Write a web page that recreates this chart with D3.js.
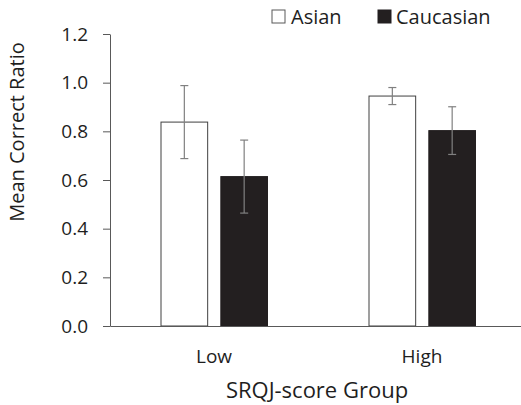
<script src="https://d3js.org/d3.v7.min.js"></script>

<style>
  body { margin: 0; background: #fff; }
  text { font-family: "Open Sans", sans-serif; fill: #1e1e1e; }
</style>

<body>
  <div id="chart"></div>
</body>

<script>
// data
var groups = ["Low", "High"]
var series = ["Asian", "Caucasian"]
var means = [[0.838, 0.614], [0.945, 0.803]]   // [group][series]
var errs  = [[0.150, 0.150], [0.035, 0.098]]
var yTicks = [0, 0.2, 0.4, 0.6, 0.8, 1.0, 1.2]

var width = 521, height = 405
var plot = {left: 110, right: 526, top: 34, bottom: 326}

var svg = d3.select("#chart").append("svg")
  .attr("width", width)
  .attr("height", height)

// scales
var x0 = d3.scaleBand().domain(groups).range([plot.left, plot.right])
var x1 = d3.scaleBand().domain(series).range([51, 157.5]).paddingInner(0.22)
var y = d3.scaleLinear().domain([0, 1.2]).range([plot.bottom, plot.top])

var fills = {Asian: "#fff", Caucasian: "#231f20"}

// bars
var g = svg.selectAll(".grp")
  .data(groups)
  .enter().append("g")
  .attr("transform", function(d) { return "translate(" + x0(d) + ",0)" })

g.selectAll("rect")
  .data(function(d, i) { return series.map(function(s, j) { return {s: s, v: means[i][j], e: errs[i][j]} }) })
  .enter().append("rect")
  .attr("x", function(d) { return x1(d.s) })
  .attr("y", function(d) { return y(d.v) })
  .attr("width", x1.bandwidth())
  .attr("height", function(d) { return y(0) - y(d.v) })
  .attr("fill", function(d) { return fills[d.s] })
  .attr("stroke", function(d) { return d.s == "Asian" ? "#404040" : "#231f20" })
  .attr("stroke-width", 1)

// error bars
var eb = g.selectAll(".eb")
  .data(function(d, i) { return series.map(function(s, j) { return {s: s, v: means[i][j], e: errs[i][j]} }) })
  .enter().append("g")
  .attr("stroke", "#808080")
  .attr("stroke-width", 1.2)

eb.append("line")
  .attr("x1", function(d) { return x1(d.s) + x1.bandwidth() / 2 })
  .attr("x2", function(d) { return x1(d.s) + x1.bandwidth() / 2 })
  .attr("y1", function(d) { return y(d.v + d.e) })
  .attr("y2", function(d) { return y(d.v - d.e) })

eb.selectAll(".cap")
  .data(function(d) { return [d.v + d.e, d.v - d.e].map(function(t) { return {s: d.s, t: t} }) })
  .enter().append("line")
  .attr("x1", function(d) { return x1(d.s) + x1.bandwidth() / 2 - 4 })
  .attr("x2", function(d) { return x1(d.s) + x1.bandwidth() / 2 + 4 })
  .attr("y1", function(d) { return y(d.t) })
  .attr("y2", function(d) { return y(d.t) })

// y axis
var yAxis = svg.append("g")
  .attr("transform", "translate(" + plot.left + ",0)")
  .call(d3.axisLeft(y).tickValues(yTicks).tickFormat(d3.format(".1f")).tickSizeInner(7).tickSizeOuter(0).tickPadding(15))
yAxis.select(".domain").attr("stroke", "#595959")
yAxis.selectAll(".tick line").attr("stroke", "#595959")
yAxis.selectAll(".tick text").style("font-size", "19px").attr("fill", "#1e1e1e")

// x axis (line + labels, no ticks)
var xAxis = svg.append("g")
  .attr("transform", "translate(0," + plot.bottom + ")")
  .call(d3.axisBottom(x0).tickSize(0).tickPadding(24))
xAxis.select(".domain").attr("stroke", "#595959")
xAxis.selectAll(".tick text").style("font-size", "19px").attr("fill", "#1e1e1e")

// axis titles
svg.append("text")
  .attr("x", 317)
  .attr("y", 398)
  .attr("text-anchor", "middle")
  .style("font-size", "22px")
  .text("SRQJ-score Group")

svg.append("text")
  .attr("transform", "translate(24,132) rotate(-90)")
  .attr("text-anchor", "middle")
  .style("font-size", "20px")
  .text("Mean Correct Ratio")

// legend
var legendX = [272, 378]
var lg = svg.selectAll(".lg")
  .data(series)
  .enter().append("g")
  .attr("transform", function(d, i) { return "translate(" + legendX[i] + ",10)" })

lg.append("rect")
  .attr("width", 13)
  .attr("height", 13)
  .attr("fill", function(d) { return fills[d] })
  .attr("stroke", function(d) { return d == "Asian" ? "#595959" : "#231f20" })

lg.append("text")
  .attr("x", function(d, i) { return i == 0 ? 19 : 18 })
  .attr("y", 14)
  .style("font-size", "20px")
  .text(function(d) { return d })
</script>
